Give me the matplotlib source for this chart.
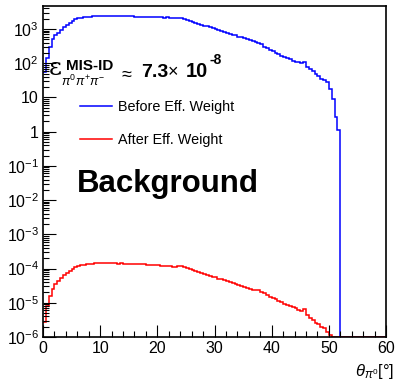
import numpy as np
import matplotlib
matplotlib.use("Agg")
import matplotlib.pyplot as plt

plt.rcParams['font.family'] = ['Liberation Sans', 'DejaVu Sans']
plt.rcParams['mathtext.fontset'] = 'custom'
plt.rcParams['mathtext.rm'] = 'Liberation Sans'
plt.rcParams['mathtext.it'] = 'Liberation Sans:italic'
plt.rcParams['mathtext.bf'] = 'Liberation Sans:bold'

# histogram bins (0.5 deg wide, 0 - 60 deg)
edges = np.linspace(0, 60, 121)

before_w = [56, 141, 302, 525, 661, 776, 955, 1148, 1318, 1479,
            1698, 1905, 2042, 2138, 2188, 2239, 2291, 2344, 2399, 2399,
            2455, 2455, 2399, 2455, 2399, 2399, 2399, 2344, 2399, 2344,
            2344, 2344, 2291, 2291, 2291, 2239, 2239, 2239, 2188, 2239,
            2188, 2188, 2138, 2188, 2138, 2138, 2089, 2138, 2089, 1995,
            1862, 1738, 1622, 1514, 1413, 1349, 1259, 1202, 1122, 1047,
            977, 933, 871, 813, 776, 724, 676, 646, 603, 575,
            537, 513, 479, 457, 417, 398, 355, 302, 275, 251,
            229, 204, 182, 166, 155, 141, 129, 120, 112, 105,
            100, 110, 79, 66, 58, 48, 42, 35, 32, 28,
            18, 8.9, 2.6, 1.1, 0, 0, 0, 0, 0, 0,
            0, 0, 0, 0, 0, 0, 0, 0, 0, 0]

after_w = [2.8e-6, 7.9e-6, 1.58e-5, 2.5e-5, 3.5e-5, 4.2e-5, 5.2e-5, 6.3e-5, 7.6e-5, 8.5e-5,
           1.0e-4, 1.12e-4, 1.20e-4, 1.26e-4, 1.29e-4, 1.32e-4, 1.35e-4, 1.38e-4, 1.41e-4, 1.41e-4,
           1.45e-4, 1.45e-4, 1.41e-4, 1.45e-4, 1.41e-4, 1.41e-4, 1.38e-4, 1.41e-4, 1.38e-4, 1.38e-4,
           1.38e-4, 1.35e-4, 1.35e-4, 1.32e-4, 1.32e-4, 1.32e-4, 1.29e-4, 1.29e-4, 1.26e-4, 1.26e-4,
           1.23e-4, 1.20e-4, 1.20e-4, 1.15e-4, 1.15e-4, 1.12e-4, 1.12e-4, 1.15e-4, 1.15e-4, 1.10e-4,
           1.02e-4, 9.5e-5, 8.9e-5, 8.3e-5, 7.9e-5, 7.4e-5, 7.1e-5, 6.6e-5, 6.2e-5, 5.8e-5,
           5.5e-5, 5.1e-5, 4.8e-5, 4.5e-5, 4.2e-5, 4.0e-5, 3.7e-5, 3.5e-5, 3.2e-5, 3.1e-5,
           2.9e-5, 2.7e-5, 2.5e-5, 2.4e-5, 2.3e-5, 2.4e-5, 2.1e-5, 1.9e-5, 1.66e-5, 1.51e-5,
           1.38e-5, 1.26e-5, 1.12e-5, 1.02e-5, 9.3e-6, 8.7e-6, 7.9e-6, 7.6e-6, 6.9e-6, 6.3e-6,
           5.6e-6, 6.8e-6, 4.4e-6, 3.5e-6, 3.2e-6, 2.6e-6, 2.4e-6, 2.0e-6, 1.78e-6, 1.41e-6,
           1.12e-6, 0, 0, 0, 0, 0, 0, 0, 0, 0,
           0, 0, 0, 0, 0, 0, 0, 0, 0, 0]

labels = ["Before Eff. Weight", "After Eff. Weight"]
ytick_vals = [1e-6, 1e-5, 1e-4, 1e-3, 1e-2, 1e-1, 1, 10, 100, 1000]
ytick_labels = [r'$10^{-6}$', r'$10^{-5}$', r'$10^{-4}$', r'$10^{-3}$', r'$10^{-2}$',
                r'$10^{-1}$', '1', '10', r'$10^{2}$', r'$10^{3}$']
xticks = [0, 10, 20, 30, 40, 50, 60]

W, H = 399, 383
fig = plt.figure(figsize=(W / 100, H / 100), dpi=100)
ax = fig.add_axes([43 / W, 1 - 337 / H, 343 / W, 331 / H])

ymin, ymax = 1e-6, 4700
b = np.array(before_w, dtype=float)
a = np.array(after_w, dtype=float)
# empty bins sit on the bottom of the frame, like ROOT does
b = np.where(b > 0, b, ymin)
a = np.where(a > 0, a, ymin)

ax.stairs(b, edges, color='#0000ff', lw=1.1, baseline=None, label=labels[0])
ax.stairs(a, edges, color='#ff0000', lw=1.1, baseline=None, label=labels[1])

ax.set_yscale('log')
ax.set_ylim(ymin, ymax)
ax.set_xlim(0, 60)
ax.set_yticks(ytick_vals)
ax.set_yticklabels(ytick_labels)
ax.yaxis.set_minor_locator(matplotlib.ticker.LogLocator(base=10, subs=np.arange(2, 10), numticks=20))
ax.yaxis.set_minor_formatter(matplotlib.ticker.NullFormatter())
ax.set_xticks(xticks)
ax.xaxis.set_minor_locator(matplotlib.ticker.MultipleLocator(2))
ax.tick_params(which='both', direction='in', top=False, right=False, width=0.8)
ax.tick_params(which='major', length=9, labelsize=11.5, pad=3)
ax.tick_params(which='minor', length=4.5)
for s in ax.spines.values():
    s.set_linewidth(1.2)

leg = ax.legend(loc='upper left', bbox_to_anchor=(80 / W, 1 - 100 / H),
                bbox_transform=fig.transFigure, frameon=False, fontsize=10.4,
                handlelength=2.2, handletextpad=0.45, labelspacing=1.3,
                borderpad=0, borderaxespad=0)

def px(x, y):
    return x / W, 1 - y / H

# efficiency annotation
fig.text(*px(49, 75), '\u03b5', fontsize=18, family='DejaVu Serif', va='baseline')
fig.text(*px(66, 70), 'MIS-ID', fontsize=11, fontweight='bold', va='baseline')
fig.text(*px(61, 86), r'$\pi^{0}\pi^{+}\pi^{-}$', fontsize=9, va='baseline')
fig.text(*px(119, 79), r'$\approx$', fontsize=13, va='baseline')
fig.text(*px(141, 77), '7.3', fontsize=14, fontweight='bold', va='baseline')
fig.text(*px(168, 77), '\u00d7', fontsize=13, va='baseline')
fig.text(*px(186, 77), '10', fontsize=14.5, fontweight='bold', va='baseline')
fig.text(*px(210, 64), '-8', fontsize=10, fontweight='bold', va='baseline')

fig.text(*px(77, 192), 'Background', fontsize=22.5, fontweight='bold', va='baseline')

fig.text(*px(394, 376), r'$\theta_{\pi^{0}}$[°]', fontsize=12, ha='right', va='baseline')

fig.savefig('out.png', dpi=100)
